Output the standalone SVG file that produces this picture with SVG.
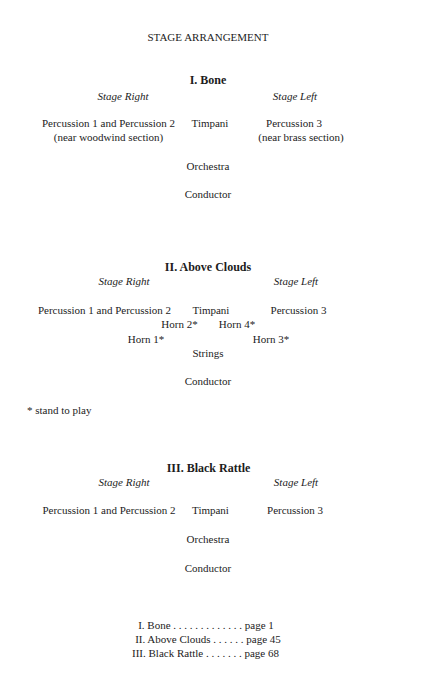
<svg xmlns="http://www.w3.org/2000/svg" width="431" height="700" viewBox="0 0 431 700">
<style>
text{font-family:"Liberation Serif","Times New Roman",serif;font-size:11px;fill:#1c1c1c;text-anchor:middle}
.h{font-weight:bold;font-size:12px}
.i{font-style:italic}
.l{text-anchor:start}
</style>
<rect width="431" height="700" fill="#ffffff"/>
<text x="208" y="41">STAGE ARRANGEMENT</text>
<g id="section1">
<text class="h" x="208" y="84">I. Bone</text>
<text class="i" x="123" y="100">Stage Right</text>
<text class="i" x="295" y="100">Stage Left</text>
<g id="s1-perc12"><text x="108.5" y="127">Percussion 1 and Percussion 2</text><text x="108.5" y="141">(near woodwind section)</text></g>
<g id="s1-timpani"><text x="210" y="127">Timpani</text></g>
<g id="s1-perc3"><text x="294" y="127">Percussion 3</text><text x="301" y="141">(near brass section)</text></g>
<g id="s1-orchestra"><text x="208" y="170">Orchestra</text></g>
<g id="s1-conductor"><text x="208" y="198">Conductor</text></g>
</g>
<g id="section2">
<text class="h" x="208" y="271">II. Above Clouds</text>
<text class="i" x="124" y="285">Stage Right</text>
<text class="i" x="296" y="285">Stage Left</text>
<g id="s2-perc12"><text x="104.5" y="314">Percussion 1 and Percussion 2</text></g>
<g id="s2-timpani"><text x="211" y="314">Timpani</text></g>
<g id="s2-perc3"><text x="298.5" y="314">Percussion 3</text></g>
<g id="s2-horn2"><text x="179.5" y="328">Horn 2*</text></g>
<g id="s2-horn4"><text x="237" y="328">Horn 4*</text></g>
<g id="s2-horn1"><text x="146" y="343">Horn 1*</text></g>
<g id="s2-horn3"><text x="271" y="343">Horn 3*</text></g>
<g id="s2-strings"><text x="208" y="357">Strings</text></g>
<g id="s2-conductor"><text x="208" y="385">Conductor</text></g>
<text class="l" x="27" y="414">* stand to play</text>
</g>
<g id="section3">
<text class="h" x="208.5" y="472">III. Black Rattle</text>
<text class="i" x="124" y="486">Stage Right</text>
<text class="i" x="296" y="486">Stage Left</text>
<g id="s3-perc12"><text x="109" y="514">Percussion 1 and Percussion 2</text></g>
<g id="s3-timpani"><text x="210.5" y="514">Timpani</text></g>
<g id="s3-perc3"><text x="295" y="514">Percussion 3</text></g>
<g id="s3-orchestra"><text x="208" y="543">Orchestra</text></g>
<g id="s3-conductor"><text x="208" y="572">Conductor</text></g>
</g>
<g id="connectors"></g>
<g id="contents">
<text x="206" y="629">I. Bone  . . . . . . . . . . . . .  page 1</text>
<text x="208" y="643">II. Above Clouds  . . . . . .  page 45</text>
<text x="205.5" y="657">III. Black Rattle  . . . . . . .  page 68</text>
</g>
</svg>
